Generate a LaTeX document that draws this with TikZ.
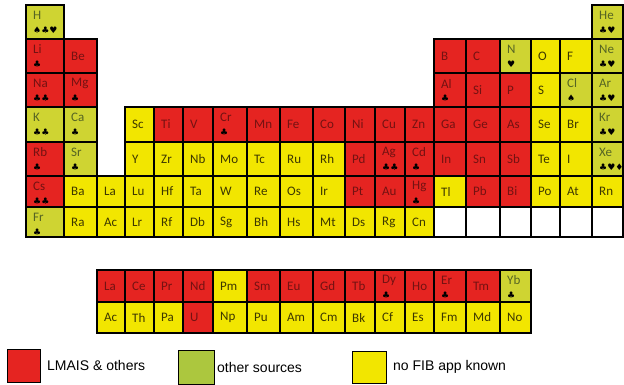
\documentclass[tikz,border=0pt]{standalone}
\usepackage{fontspec}
\setmainfont{Carlito}
\newfontfamily\suitfont{DejaVu Sans}
\newfontfamily\legfont{Liberation Sans}
\definecolor{cred}{RGB}{229,36,33}
\definecolor{cyel}{RGB}{242,230,0}
\definecolor{cgrn}{RGB}{207,212,50}
\definecolor{clgrn}{RGB}{172,199,62}
\definecolor{tred}{RGB}{115,18,18}
\definecolor{tyel}{RGB}{60,55,0}
\definecolor{tgrn}{RGB}{85,100,35}
\tikzset{
  rcell/.style={fill=cred}, ycell/.style={fill=cyel}, gcell/.style={fill=cgrn}, wcell/.style={fill=white},
  rtext/.style={text=tred}, ytext/.style={text=tyel}, gtext/.style={text=tgrn}, wtext/.style={},
  cellbox/.style={draw=black, line width=1.4pt},
  elabel/.style={anchor=west, inner sep=0pt, font=\fontsize{13}{13}\selectfont},
  suitlabel/.style={anchor=west, inner sep=0pt, font=\suitfont\fontsize{9}{9}\selectfont, text=black},
  legbox/.style={draw=black, line width=1.4pt},
  legtext/.style={anchor=west, inner sep=0pt, font=\legfont\fontsize{14}{14}\selectfont},
}
\def\xs{{26,64,97,125,154,183,213,247,280,313,345,375,405,434,466,500,531,560,592,623}}
\def\ys{{5,39,73,107,142,176,207,237,270,302,333}}
\newcommand\el[5]{%
  \pgfmathsetmacro\xa{\xs[#1-1]}%
  \pgfmathsetmacro\xb{\xs[#1]}%
  \pgfmathsetmacro\ya{\ys[#2-1]}%
  \pgfmathsetmacro\yb{\ys[#2]}%
  \pgfmathsetmacro\ym{(\ya+\yb)/2}%
  \pgfmathsetmacro\xt{\xa+7}%
  \draw[cellbox,#3cell] (\xa,\ya) rectangle (\xb,\yb);
  \if\relax\detokenize{#5}\relax
    \node[elabel,#3text] (n-#2-#4) at (\xt,\ym) {#4};
  \else
    \pgfmathsetmacro\yu{\ya+10.5}%
    \pgfmathsetmacro\yv{\ya+25}%
    \node[elabel,#3text] (n-#2-#4) at (\xt,\yu) {#4};
    \node[suitlabel] (s-#2-#4) at (\xt,\yv) {#5};
  \fi
}
\begin{document}
\begin{tikzpicture}[x=1pt,y=-1pt]
\useasboundingbox (0,0) rectangle (624,385);
% row 1
\el{1}{1}{g}{H}{♠♣♥}
\el{19}{1}{g}{He}{♣♥}
% row 2
\el{1}{2}{r}{Li}{♣}
\el{2}{2}{r}{Be}{}
\el{14}{2}{r}{B}{}
\el{15}{2}{r}{C}{}
\el{16}{2}{g}{N}{♥}
\el{17}{2}{y}{O}{}
\el{18}{2}{y}{F}{}
\el{19}{2}{g}{Ne}{♣♥}
% row 3
\el{1}{3}{r}{Na}{♣♣}
\el{2}{3}{r}{Mg}{♣}
\el{14}{3}{r}{Al}{♣}
\el{15}{3}{r}{Si}{}
\el{16}{3}{r}{P}{}
\el{17}{3}{y}{S}{}
\el{18}{3}{g}{Cl}{♠}
\el{19}{3}{g}{Ar}{♣♥}
% row 4
\el{1}{4}{g}{K}{♣♣}
\el{2}{4}{g}{Ca}{♣}
\el{4}{4}{y}{Sc}{}
\el{5}{4}{r}{Ti}{}
\el{6}{4}{r}{V}{}
\el{7}{4}{r}{Cr}{♣}
\el{8}{4}{r}{Mn}{}
\el{9}{4}{r}{Fe}{}
\el{10}{4}{r}{Co}{}
\el{11}{4}{r}{Ni}{}
\el{12}{4}{r}{Cu}{}
\el{13}{4}{r}{Zn}{}
\el{14}{4}{r}{Ga}{}
\el{15}{4}{r}{Ge}{}
\el{16}{4}{r}{As}{}
\el{17}{4}{y}{Se}{}
\el{18}{4}{y}{Br}{}
\el{19}{4}{g}{Kr}{♣♥}
% row 5
\el{1}{5}{r}{Rb}{♣}
\el{2}{5}{g}{Sr}{♣}
\el{4}{5}{y}{Y}{}
\el{5}{5}{y}{Zr}{}
\el{6}{5}{y}{Nb}{}
\el{7}{5}{y}{Mo}{}
\el{8}{5}{y}{Tc}{}
\el{9}{5}{y}{Ru}{}
\el{10}{5}{y}{Rh}{}
\el{11}{5}{r}{Pd}{}
\el{12}{5}{r}{Ag}{♣♣}
\el{13}{5}{r}{Cd}{♣}
\el{14}{5}{r}{In}{}
\el{15}{5}{r}{Sn}{}
\el{16}{5}{r}{Sb}{}
\el{17}{5}{y}{Te}{}
\el{18}{5}{y}{I}{}
\el{19}{5}{g}{Xe}{♣♥♦}
% row 6
\el{1}{6}{r}{Cs}{♣♣}
\el{2}{6}{y}{Ba}{}
\el{3}{6}{y}{La}{}
\el{4}{6}{y}{Lu}{}
\el{5}{6}{y}{Hf}{}
\el{6}{6}{y}{Ta}{}
\el{7}{6}{y}{W}{}
\el{8}{6}{y}{Re}{}
\el{9}{6}{y}{Os}{}
\el{10}{6}{y}{Ir}{}
\el{11}{6}{r}{Pt}{}
\el{12}{6}{r}{Au}{}
\el{13}{6}{r}{Hg}{♣}
\el{14}{6}{y}{Tl}{}
\el{15}{6}{r}{Pb}{}
\el{16}{6}{r}{Bi}{}
\el{17}{6}{y}{Po}{}
\el{18}{6}{y}{At}{}
\el{19}{6}{y}{Rn}{}
% row 7
\el{1}{7}{g}{Fr}{♣}
\el{2}{7}{y}{Ra}{}
\el{3}{7}{y}{Ac}{}
\el{4}{7}{y}{Lr}{}
\el{5}{7}{y}{Rf}{}
\el{6}{7}{y}{Db}{}
\el{7}{7}{y}{Sg}{}
\el{8}{7}{y}{Bh}{}
\el{9}{7}{y}{Hs}{}
\el{10}{7}{y}{Mt}{}
\el{11}{7}{y}{Ds}{}
\el{12}{7}{y}{Rg}{}
\el{13}{7}{y}{Cn}{}
\el{14}{7}{w}{}{}
\el{15}{7}{w}{}{}
\el{16}{7}{w}{}{}
\el{17}{7}{w}{}{}
\el{18}{7}{w}{}{}
\el{19}{7}{w}{}{}
% lanthanides
\el{3}{9}{r}{La}{}
\el{4}{9}{r}{Ce}{}
\el{5}{9}{r}{Pr}{}
\el{6}{9}{r}{Nd}{}
\el{7}{9}{y}{Pm}{}
\el{8}{9}{r}{Sm}{}
\el{9}{9}{r}{Eu}{}
\el{10}{9}{r}{Gd}{}
\el{11}{9}{r}{Tb}{}
\el{12}{9}{r}{Dy}{♣}
\el{13}{9}{r}{Ho}{}
\el{14}{9}{r}{Er}{♣}
\el{15}{9}{r}{Tm}{}
\el{16}{9}{g}{Yb}{♣}
% actinides
\el{3}{10}{y}{Ac}{}
\el{4}{10}{y}{Th}{}
\el{5}{10}{y}{Pa}{}
\el{6}{10}{r}{U}{}
\el{7}{10}{y}{Np}{}
\el{8}{10}{y}{Pu}{}
\el{9}{10}{y}{Am}{}
\el{10}{10}{y}{Cm}{}
\el{11}{10}{y}{Bk}{}
\el{12}{10}{y}{Cf}{}
\el{13}{10}{y}{Es}{}
\el{14}{10}{y}{Fm}{}
\el{15}{10}{y}{Md}{}
\el{16}{10}{y}{No}{}
% legend
\node[legbox, fill=cred, minimum width=33pt, minimum height=33pt, inner sep=0pt, anchor=north west] (lr) at (7,349) {};
\node[legtext] (lrt) at (47,365.5) {LMAIS \& others};
\node[legbox, fill=clgrn, minimum width=36pt, minimum height=34pt, inner sep=0pt, anchor=north west] (lg) at (178,350) {};
\node[legtext] (lgt) at (217,367) {other sources};
\node[legbox, fill=cyel, minimum width=34pt, minimum height=32pt, inner sep=0pt, anchor=north west] (ly) at (352,351) {};
\node[legtext] (lyt) at (393,367) {no FIB app known};
\end{tikzpicture}
\end{document}
